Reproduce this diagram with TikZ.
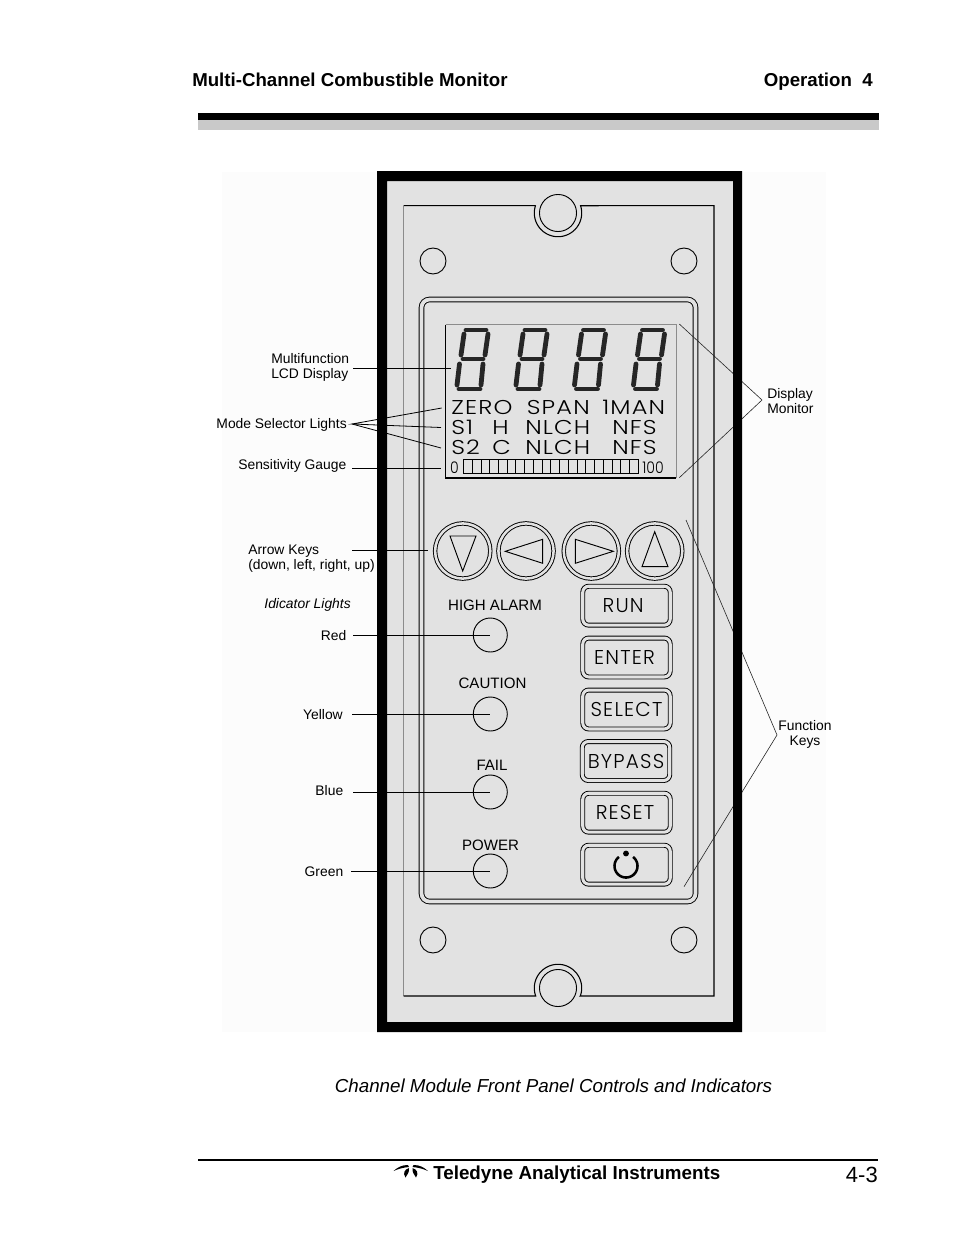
\documentclass[tikz,border=0pt]{standalone}
\usepackage{fontspec}
\setmainfont{Liberation Sans}
\newfontfamily\lcd{Poppins Light}[LetterSpace=6,FakeStretch=1.2]
\newfontfamily\lcdb{Poppins Light}[LetterSpace=6]
\newfontfamily\lcdn{Poppins Light}[FakeStretch=0.88]
\usetikzlibrary{calc}
\definecolor{panelgray}{HTML}{E2E2E2}
\definecolor{faint}{HTML}{FCFCFC}
\definecolor{lcdink}{HTML}{262626}
\definecolor{rulegray}{HTML}{C9C9C9}
\newcommand{\pxfont}[1]{\fontsize{#1}{11.25}\selectfont}
\tikzset{
  x=0.75pt,y=-0.75pt,
  lead/.style={draw=black,line width=0.6pt},
  thinlead/.style={draw=black!85,line width=0.45pt},
  lbl/.style={inner sep=0pt,font=\pxfont{10.4},align=left},
  clbl/.style={inner sep=0pt,font=\pxfont{10.4},align=center},
  lcdtxt/.style={inner sep=0pt,anchor=base west,font=\lcd\pxfont{15},text=black},
  lcdbtn/.style={font=\lcdb\pxfont{15},text=black},
  btn/.style={draw=black,double=panelgray,double distance=2.3pt,line width=0.7pt,rounded corners=4.5pt,minimum width=65.6pt,minimum height=29.2pt,inner sep=0pt},
  arrowbtn/.style={circle,draw=black,double=panelgray,double distance=1.9pt,line width=0.7pt,minimum size=41.4pt,inner sep=0pt},
  led/.style={circle,draw=black,line width=0.7pt,minimum size=25.5pt,inner sep=0pt},
  hole/.style={circle,draw=black,line width=0.7pt,minimum size=19.5pt,inner sep=0pt},
  boss/.style={circle,draw=black,line width=0.7pt,minimum size=27.8pt,inner sep=0pt},
  tri/.style={draw=black,line width=0.7pt,line join=miter},
  seg/.style={draw=lcdink,line width=3.6pt,line cap=round},
}
\begin{document}
\begin{tikzpicture}
\useasboundingbox (0,0) rectangle (954,1235);
\fill[white] (0,0) rectangle (954,1235);
\fill[faint] (222,172) rectangle (826,1032);
% header
\node[anchor=base west,inner sep=0pt,font=\bfseries\pxfont{14}] (title) at (192,86) {Multi-Channel Combustible Monitor};
\node[anchor=base east,inner sep=0pt,font=\bfseries\pxfont{14}] (chapter) at (873,86) {Operation\ \ 4};
\fill[black] (198,113) rectangle (879,119.5);
\fill[rulegray] (198,119.5) rectangle (879,130);
% panel
\fill[panelgray] (377,171) rectangle (742,1032);
% plate
\draw[black!45,line width=0.5pt] (403.5,205.7) -- (403.5,996);
\draw[black,line width=0.8pt] (403.5,205.7) -- (535.4,205.7)
  -- plot[domain=197.9:-17.9,samples=50] ({558+23.7*cos(\x)},{213+23.7*sin(\x)})
  -- (714,205.7) -- (714,996) -- (580.3,996)
  -- plot[domain=19.7:-199.7,samples=50] ({558+23.7*cos(\x)},{988+23.7*sin(\x)})
  -- (403.5,996);
\node[boss] (bossT) at (558,213) {};
\node[boss] (bossB) at (558,988) {};
\node[hole] (h1) at (433,261) {};
\node[hole] (h2) at (684,261) {};
\node[hole] (h3) at (433,940) {};
\node[hole] (h4) at (684,940) {};
% inner panel
\node[draw=black,double=panelgray,double distance=2.8pt,line width=0.7pt,rounded corners=6pt,minimum width=205.5pt,minimum height=451.5pt,inner sep=0pt] (bezel) at (558.5,600.5) {};
% LCD
\draw[black!45,line width=0.5pt] (445.5,324.5) -- (676,324.5) -- (676,478);
\draw[black,line width=0.8pt] (445.5,324.5) -- (445.5,478) -- (676,478);
\foreach \o in {0,59,117.5,176.5}{
  \begin{scope}[shift={(\o,0)}]
    \draw[seg] (466,330) -- (486,330);
    \draw[seg] (463,359) -- (483,359);
    \draw[seg] (459,389) -- (480,389);
    \draw[seg] (464,334) -- (461,355);
    \draw[seg] (488,334) -- (485,355);
    \draw[seg] (459.5,364) -- (457,385);
    \draw[seg] (483,364) -- (481,385);
  \end{scope}
}
\node[lcdtxt] (z1) at (451,414) {ZERO};
\node[lcdtxt] (z2) at (526.5,414) {SPAN};
\node[lcdtxt] (z3) at (602,414) {1MAN};
\node[lcdtxt] (a1) at (451,434) {S1};
\node[lcdtxt] (a2) at (492,434) {H};
\node[lcdtxt] (a3) at (525,434) {NLCH};
\node[lcdtxt] (a4) at (612,434) {NFS};
\node[lcdtxt] (b1) at (451,454.5) {S2};
\node[lcdtxt] (b2) at (492,454.5) {C};
\node[lcdtxt] (b3) at (525,454.5) {NLCH};
\node[lcdtxt] (b4) at (612,454.5) {NFS};
\node[inner sep=0pt,anchor=base,font=\lcdn\pxfont{12}] (g0) at (454.5,473) {0};
\node[inner sep=0pt,anchor=base,font=\lcdn\pxfont{12}] (g100) at (653,473) {100};
\foreach \i in {0,...,19}{
  \draw[black,line width=0.6pt] ({463.5+\i*8.73},459.5) rectangle ({463.5+(\i+1)*8.73},473);
}
% arrow keys
\node[arrowbtn] (kd) at (462.7,551) {};
\node[arrowbtn] (kl) at (526,551) {};
\node[arrowbtn] (kr) at (591.3,551) {};
\node[arrowbtn] (ku) at (654.7,551) {};
\draw[tri] (450,536) -- (476,536) -- (462.7,571) -- cycle;
\draw[tri] (505.3,551.3) -- (542.7,539.3) -- (542.7,563.3) -- cycle;
\draw[tri] (575.3,539.3) -- (575.3,563.3) -- (613.3,551.3) -- cycle;
\draw[tri] (654.7,531.7) -- (642,566.7) -- (668,566.7) -- cycle;
% function keys
\node[btn,lcdbtn] (run) at (626.5,605.7) {\hspace*{-5pt}RUN};
\node[btn,lcdbtn] (enter) at (626.5,657.5) {\hspace*{-3pt}ENTER};
\node[btn,lcdbtn] (select) at (626.5,709.5) {SELECT};
\node[btn,lcdbtn] (bypass) at (626,761) {BYPASS};
\node[btn,lcdbtn] (reset) at (626.5,812.7) {\hspace*{-2.2pt}RESET};
\node[btn] (pwr) at (626.5,864.7) {};
\draw[black,line width=1.9pt] plot[domain=-52:232,samples=40] ({626+11.5*cos(\x)},{866+11.5*sin(\x)});
\fill[black] (626,853.5) circle[radius=2.2pt];
% lights
\node[clbl,font=\pxfont{11.3}] (tHigh) at (495,605) {HIGH ALARM};
\node[clbl,font=\pxfont{11.3}] (tCaut) at (492.5,683) {CAUTION};
\node[clbl,font=\pxfont{11.3}] (tFail) at (492,765) {FAIL};
\node[clbl,font=\pxfont{11.3}] (tPow) at (490.5,845) {POWER};
\node[led] (red) at (490.3,635) {};
\node[led] (yel) at (490.3,714) {};
\node[led] (blu) at (490.3,792) {};
\node[led] (grn) at (490.3,871) {};
% labels
\node[lbl,anchor=west] (lMulti) at (271,367.5) {Multifunction\\LCD Display};
\node[lbl,anchor=east] (lMode) at (347,425.2) {Mode Selector Lights};
\node[lbl,anchor=east] (lSens) at (346.5,466.3) {Sensitivity Gauge};
\node[lbl,anchor=west] (lArrow) at (248,558.2) {Arrow Keys\\(down, left, right, up)};
\node[lbl,anchor=east,font=\itshape\pxfont{10.4}] (lInd) at (351,605.2) {Idicator Lights};
\node[lbl,anchor=east] (lRed) at (346.5,635.5) {Red};
\node[lbl,anchor=east] (lYel) at (343,715) {Yellow};
\node[lbl,anchor=east] (lBlu) at (343.5,791) {Blue};
\node[lbl,anchor=east] (lGrn) at (343.5,872) {Green};
\node[lbl,anchor=west] (lDisp) at (767,401.5) {Display\\Monitor};
\node[clbl] (lFunc) at (805,734.5) {Function\\Keys};
% connector ends
\coordinate (cMulti) at (353,368);
\coordinate (eMulti) at (451,368);
\coordinate (cMode) at (352,424);
\coordinate (eM1) at (441.7,408);
\coordinate (eM2) at (441,427.5);
\coordinate (eM3) at (441,448);
\coordinate (cSens) at (352,468);
\coordinate (eSens) at (441,468);
\coordinate (cArrow) at (352,550);
\coordinate (eArrow) at (428,550);
\coordinate (cRed) at (353,635);
\coordinate (cYel) at (352,714);
\coordinate (cBlu) at (353,792);
\coordinate (cGrn) at (351,871);
\coordinate (cDisp) at (762,400);
\coordinate (eD1) at (679.3,324);
\coordinate (eD2) at (679.3,477.7);
\coordinate (cFunc) at (777,735);
\coordinate (eF1) at (686,520);
\coordinate (eF2) at (684,886.7);
\draw[lead] (cMulti) -- (eMulti);
\draw[lead] (eM1) -- (cMode) -- (eM2);
\draw[lead] (cMode) -- (eM3);
\draw[lead] (cSens) -- (eSens);
\draw[lead] (cArrow) -- (eArrow);
\draw[lead] (cRed) -- (red.center);
\draw[lead] (cYel) -- (yel.center);
\draw[lead] (cBlu) -- (blu.center);
\draw[lead] (cGrn) -- (grn.center);
\draw[thinlead] (eD1) -- (cDisp) -- (eD2);
\draw[thinlead] (eF1) -- (cFunc) -- (eF2);
% frame
\fill[black,even odd rule] (377,171) rectangle (742,1032) (387,181) rectangle (733,1022);
% caption and footer
\node[inner sep=0pt,anchor=base,font=\itshape\pxfont{14.08}] (cap) at (553.5,1092) {Channel Module Front Panel Controls and Indicators};
\fill[black] (198,1158.5) rectangle (878,1160.5);
% logo
\fill[black] (393.5,1171) .. controls (398,1167) and (402,1165) .. (408,1165) -- (409,1167) .. controls (403,1167.5) and (398,1169) .. (393.5,1171) -- cycle;
\fill[black] (428,1171) .. controls (423.5,1167) and (419.5,1165) .. (413.5,1165) -- (412.5,1167) .. controls (418.5,1167.5) and (423.5,1169) .. (428,1171) -- cycle;
\fill[black] (409,1168) .. controls (404.5,1169.5) and (402.5,1173) .. (405.5,1177.5) .. controls (407.5,1174.5) and (409.5,1172) .. (409,1168) -- cycle;
\fill[black] (412.5,1168) .. controls (417,1169.5) and (419,1173) .. (416,1177.5) .. controls (414,1174.5) and (412,1172) .. (412.5,1168) -- cycle;
\node[anchor=base west,inner sep=0pt,font=\bfseries\pxfont{14.1}] (brand) at (433,1179) {Teledyne Analytical Instruments};
\node[anchor=base east,inner sep=0pt,font=\pxfont{16.5}] (page) at (878,1182) {4-3};
\end{tikzpicture}
\end{document}
